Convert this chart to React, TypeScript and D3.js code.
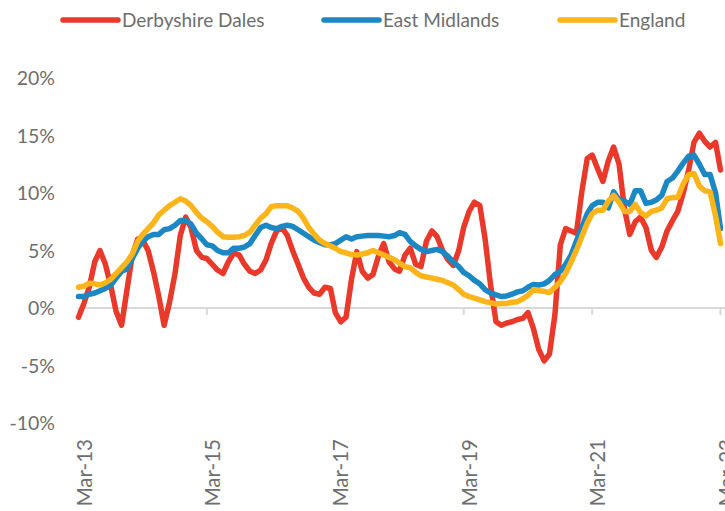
import React from 'react';
import * as d3 from 'd3';

// ---- DATA ----
const seriesNames = ['Derbyshire Dales', 'East Midlands', 'England'];
const seriesColors = ['#E8392B', '#1B87C3', '#FBB419'];

// monthly, Mar-13 .. Mar-23 (121 points), annual % change
const derbyshireDales = [
  -0.8, 0.4, 1.8, 4.0, 5.0, 3.8, 1.9, -0.3, -1.5, 1.5,
  4.6, 6.0, 5.9, 5.0, 3.2, 1.0, -1.5, 0.5, 3.0, 6.3,
  7.9, 7.0, 5.0, 4.4, 4.3, 3.8, 3.3, 3.0, 4.0, 4.8,
  4.6, 3.8, 3.2, 3.0, 3.3, 4.2, 5.6, 6.7, 7.0, 6.3,
  5.0, 3.8, 2.6, 1.8, 1.3, 1.2, 1.8, 1.7, -0.4, -1.2,
  -0.8, 2.5, 4.9, 3.2, 2.6, 2.9, 4.5, 5.6, 4.0, 3.4,
  3.2, 4.6, 5.2, 3.8, 3.6, 5.8, 6.7, 6.2, 5.0, 4.2,
  3.7, 5.0, 7.0, 8.4, 9.2, 8.9, 6.0, 2.0, -1.2, -1.5,
  -1.3, -1.2, -1.0, -0.9, -0.4, -1.8, -3.6, -4.6, -4.0, -0.6,
  5.5, 6.9, 6.7, 6.5, 10.1, 13.0, 13.3, 12.1, 11.0, 12.8,
  14.0, 12.5, 8.6, 6.4, 7.5, 7.9, 7.0, 5.0, 4.4, 5.3,
  6.7, 7.6, 8.4, 10.0, 12.0, 14.4, 15.2, 14.5, 14.0, 14.4,
  12.0,
];

const eastMidlands = [
  1.0, 1.0, 1.2, 1.3, 1.5, 1.7, 2.0, 2.6, 3.2, 3.4,
  4.3, 5.2, 5.8, 6.2, 6.4, 6.4, 6.8, 6.9, 7.2, 7.6,
  7.6, 7.3, 6.5, 6.0, 5.5, 5.4, 5.0, 4.8, 4.8, 5.2,
  5.2, 5.3, 5.6, 6.3, 7.0, 7.2, 7.0, 6.9, 7.1, 7.2,
  7.1, 6.8, 6.5, 6.2, 5.9, 5.7, 5.5, 5.5, 5.6, 5.9,
  6.2, 6.0, 6.2, 6.25, 6.3, 6.3, 6.3, 6.25, 6.2, 6.3,
  6.55, 6.4, 5.8, 5.4, 5.1, 4.9, 5.0, 5.1, 4.9, 4.5,
  4.0, 3.6, 3.1, 2.8, 2.4, 2.1, 1.6, 1.3, 1.15, 1.0,
  1.05, 1.2, 1.4, 1.5, 1.8, 2.05, 2.0, 2.1, 2.4, 2.9,
  3.2, 3.8, 4.6, 5.8, 7.0, 8.2, 8.9, 9.2, 9.2, 8.7,
  10.1, 9.4, 9.3, 9.0, 10.2, 10.2, 9.1, 9.2, 9.4, 9.8,
  11.0, 11.3, 11.9, 12.6, 13.2, 13.3, 12.5, 11.6, 11.6, 10.0,
  6.9,
];

const england = [
  1.8, 1.9, 2.15, 2.1, 2.0, 2.2, 2.5, 3.0, 3.5, 4.0,
  4.7, 5.8, 6.4, 6.9, 7.4, 8.1, 8.5, 8.9, 9.2, 9.5,
  9.3, 8.9, 8.3, 7.8, 7.5, 7.1, 6.6, 6.2, 6.15, 6.15,
  6.2, 6.3, 6.6, 7.2, 7.8, 8.2, 8.8, 8.9, 8.9, 8.9,
  8.7, 8.4, 7.8, 7.0, 6.4, 5.9, 5.6, 5.4, 5.2, 4.9,
  4.8, 4.65, 4.6, 4.7, 4.8, 5.0, 4.8, 4.6, 4.4, 4.2,
  3.9, 3.6, 3.5, 3.1, 2.8, 2.7, 2.6, 2.5, 2.4, 2.2,
  2.0, 1.6, 1.2, 1.0, 0.85, 0.7, 0.55, 0.45, 0.35, 0.4,
  0.4, 0.5, 0.55, 0.8, 1.1, 1.6, 1.5, 1.45, 1.35, 1.8,
  2.3, 3.0, 4.0, 5.0, 6.2, 7.4, 8.2, 8.5, 8.5, 9.3,
  9.8, 9.2, 8.4, 8.4, 9.0, 8.3, 8.0, 8.4, 8.5, 8.7,
  9.5, 9.6, 9.6, 10.8, 11.6, 11.7, 10.6, 10.2, 10.1, 8.0,
  5.6,
];

const xTickLabels = ['Mar-13', 'Mar-15', 'Mar-17', 'Mar-19', 'Mar-21', 'Mar-23'];
const yTickValues = [-10, -5, 0, 5, 10, 15, 20];

// ---- LAYOUT ----
const W = 725;
const H = 511;
const FONT = 'Lato, "Open Sans", sans-serif';
const TEXT = '#6e6e6e';

const parseLabel = d3.timeParse('%b-%y');
const startDate = parseLabel('Mar-13') as Date;
const endDate = parseLabel('Mar-23') as Date;
const dates = d3.timeMonth.range(startDate, d3.timeMonth.offset(endDate, 1));

const x = d3.scaleTime().domain([startDate, endDate]).range([78.5, 720.5]);
const y = d3.scaleLinear().domain([-10, 20]).range([423, 78]);

const allSeries = [derbyshireDales, eastMidlands, england];

export default function App() {
  const line = d3
    .line<number>()
    .x((_, i) => x(dates[i]))
    .y((d) => y(d));

  const legendX = [63, 324, 560];

  return (
    <svg
      width={W}
      height={H}
      style={{ position: 'absolute', left: 0, top: 0, background: '#fff' }}
      fontFamily={FONT}
    >
      {/* y tick labels */}
      {yTickValues.map((v) => (
        <text
          key={v}
          x={55}
          y={y(v)}
          dy="0.36em"
          textAnchor="end"
          fontSize={19.5}
          fill={TEXT}
        >
          {`${v}%`}
        </text>
      ))}

      {/* x axis at 0 */}
      <line x1={x(startDate)} x2={W} y1={y(0)} y2={y(0)} stroke="#d9d9d9" strokeWidth={2} />
      {xTickLabels.map((lab) => {
        const d = parseLabel(lab) as Date;
        const tx = x(d);
        return (
          <g key={lab}>
            <line x1={tx} x2={tx} y1={y(0)} y2={y(0) + 7} stroke="#d9d9d9" strokeWidth={2} />
            <text
              transform={`translate(${tx + 13},${439}) rotate(-90)`}
              textAnchor="end"
              fontSize={20.5}
              fill={TEXT}
            >
              {lab}
            </text>
          </g>
        );
      })}

      {/* series */}
      {allSeries.map((s, i) => (
        <path
          key={seriesNames[i]}
          d={line(s) || ''}
          fill="none"
          stroke={seriesColors[i]}
          strokeWidth={5.5}
          strokeLinejoin="round"
          strokeLinecap="round"
        />
      ))}

      {/* legend */}
      {seriesNames.map((n, i) => (
        <g key={n}>
          <line
            x1={legendX[i]}
            x2={legendX[i] + 55}
            y1={20}
            y2={20}
            stroke={seriesColors[i]}
            strokeWidth={5.5}
            strokeLinecap="round"
          />
          <text x={legendX[i] + 59} y={20} dy="0.36em" fontSize={19} fill={TEXT}>
            {n}
          </text>
        </g>
      ))}
    </svg>
  );
}
